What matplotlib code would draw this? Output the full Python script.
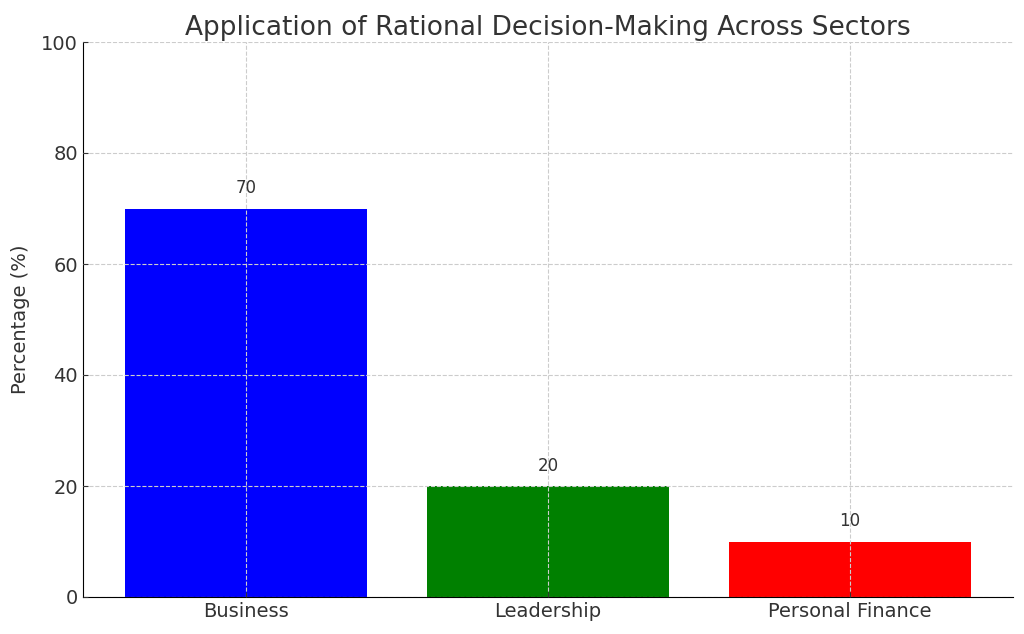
import matplotlib
matplotlib.use("Agg")
import matplotlib.pyplot as plt

categories = ["Business", "Leadership", "Personal Finance"]
values = [70, 20, 10]
colors = ["blue", "green", "red"]
yticks = [0, 20, 40, 60, 80, 100]

plt.rcParams['font.family'] = ['DejaVu Sans']
fig = plt.figure(figsize=(10.24, 6.34), dpi=100)
ax = fig.add_axes([83/1024, 1 - 597/634, (1013-83)/1024, (597-42)/634])

bars = ax.bar(categories, values, color=colors, width=0.8)
ax.set_ylim(0, 100)
ax.set_yticks(yticks)
ax.set_title("Application of Rational Decision-Making Across Sectors", fontsize=19, color="#333333", pad=5)
ax.set_ylabel("Percentage (%)", fontsize=14, color="#333333", labelpad=8)
ax.tick_params(axis='both', direction='in', labelsize=14, labelcolor="#333333", colors="#333333")
ax.spines['top'].set_visible(False)
ax.spines['right'].set_visible(False)
ax.grid(True, linestyle='--', color='#cccccc', linewidth=0.8)
ax.set_axisbelow(False)

for b, v in zip(bars, values):
    ax.text(b.get_x() + b.get_width()/2, v + 2, f"{v}", ha='center', va='bottom', fontsize=12, color="#333333")

fig.savefig("out.png", dpi=100)
